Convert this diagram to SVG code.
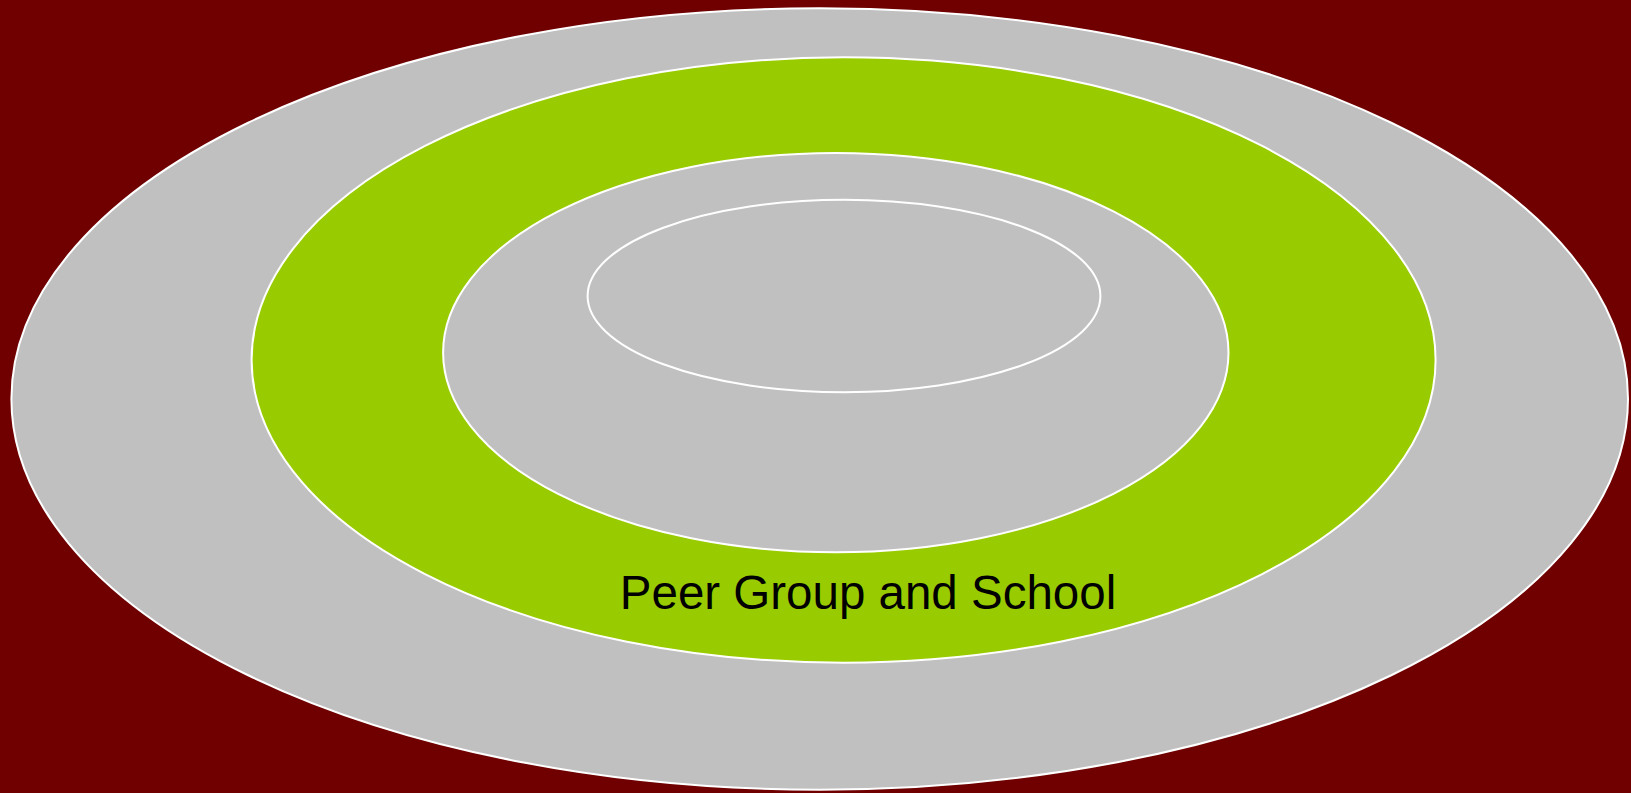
<svg xmlns="http://www.w3.org/2000/svg" width="1631" height="793" viewBox="0 0 1631 793">
<style>
.ring{stroke:#ffffff;stroke-width:2}
.grey{fill:#c0c0c0}
.green{fill:#99cc00}
.lbl{font-family:"Liberation Sans",Arial,sans-serif;font-size:47.5px;fill:#000000}
</style>
<rect x="0" y="0" width="1631" height="793" fill="#700000"/>
<g id="outer"><ellipse class="ring grey" cx="819.7" cy="399" rx="808.3" ry="390.7"/></g>
<g id="peer-group-and-school"><ellipse class="ring green" cx="843.6" cy="360" rx="592" ry="302.7"/>
<text class="lbl" x="868" y="609" text-anchor="middle">Peer Group and School</text></g>
<g id="middle"><ellipse class="ring grey" cx="835.8" cy="352.6" rx="392.7" ry="199.7"/></g>
<g id="inner"><ellipse class="ring grey" cx="844" cy="296" rx="256.4" ry="96.2"/></g>
<g id="connectors"></g>
</svg>
